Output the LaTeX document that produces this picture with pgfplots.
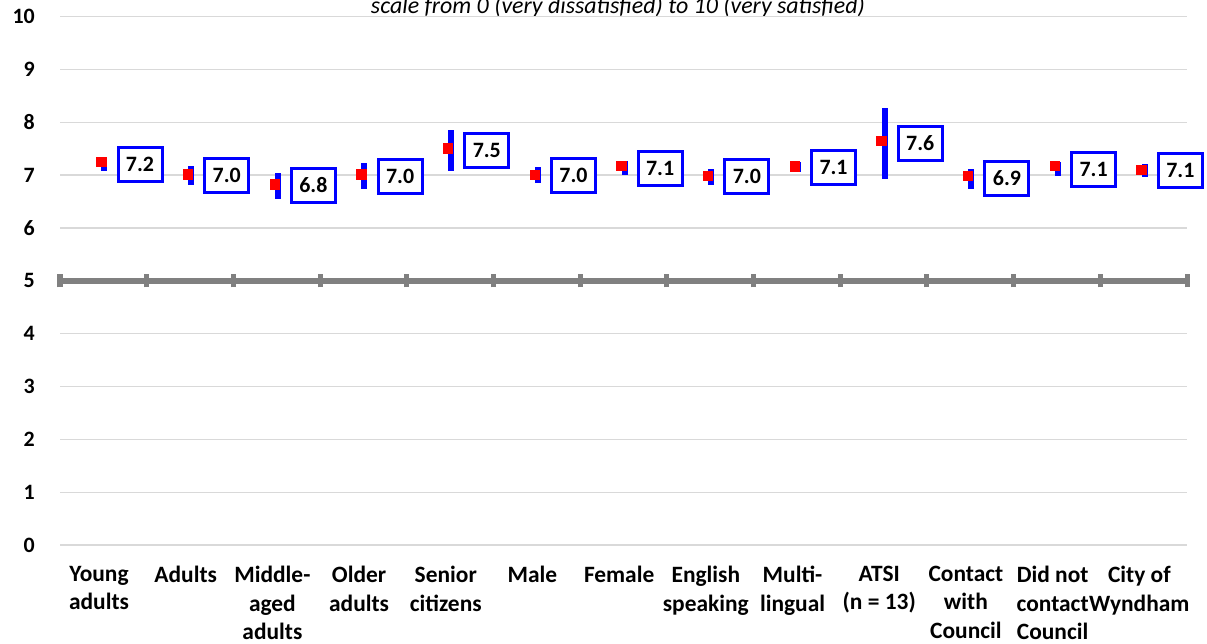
\documentclass[border=0pt]{standalone}
\usepackage{fontspec}
\setmainfont{Carlito}
\usepackage{pgfplots}
\pgfplotsset{compat=1.18}
\definecolor{gridgray}{RGB}{217,217,217}
\definecolor{axgray}{RGB}{128,128,128}
\definecolor{pblue}{RGB}{0,0,255}
\definecolor{pred}{RGB}{255,0,0}
\begin{document}
\begin{tikzpicture}
\path[use as bounding box] (0,0) rectangle (1207bp,-644bp);
\node[font=\itshape\fontsize{24}{28}\selectfont, anchor=base, inner sep=0pt] at (618bp,-13bp) {scale from 0 (very dissatisfied) to 10 (very satisfied)};
\begin{axis}[
  at={(60bp,-545bp)}, anchor=south west,
  scale only axis, width=1127bp, height=528.5bp,
  xmin=0, xmax=13, ymin=0, ymax=10,
  clip=false,
  axis line style={draw=none},
  major tick length=0pt,
  ytick={0,1,...,10},
  ymajorgrids, grid style={gridgray, line width=1.2bp},
  xtick={0.45,1.45,...,12.45},
  xticklabels={Young\\adults, Adults, Middle-\\aged\\adults, Older\\adults, Senior\\citizens, Male, Female, English\\speaking, Multi-\\lingual, ATSI\\(n = 13), Contact\\with\\Council, Did not\\contact\\Council, City of\\Wyndham},
  xticklabel style={font=\bfseries\fontsize{23.5}{28.5}\selectfont, align=center, anchor=north, inner sep=0pt, yshift=-21bp},
  yticklabel style={font=\bfseries\fontsize{22}{28}\selectfont, anchor=east, inner sep=0pt, xshift=-25bp},
  /pgf/number format/assume math mode=true,
]
% axis line at 5
\draw[axgray, line width=5.5bp] (axis cs:0,5) -- (axis cs:13,5);
\pgfplotsinvokeforeach{0,1,...,13}{\draw[axgray, line width=5bp] (axis cs:#1,5) ++(0,-6.5bp) -- ++(0,13bp);}
% confidence bars
\addplot[draw=none, mark=none, forget plot, error bars/.cd, y dir=both, y explicit, error mark=none, error bar style={pblue, line width=6bp}]
coordinates {
(0.512,7.215) +- (0,0.135)
(1.512,6.995) +- (0,0.185)
(2.512,6.790) +- (0,0.240)
(3.512,6.980) +- (0,0.240)
(4.512,7.465) +- (0,0.385)
(5.512,7.000) +- (0,0.150)
(6.512,7.130) +- (0,0.130)
(7.512,6.960) +- (0,0.150)
(8.512,7.150) +- (0,0.090)
(9.512,7.590) +- (0,0.670)
(10.512,6.925) +- (0,0.185)
(11.512,7.120) +- (0,0.130)
(12.512,7.080) +- (0,0.120)
};
% means
\addplot[only marks, mark=square*, mark size=4.7bp, mark options={fill=pred, draw=pred, line width=0pt}]
coordinates {
(0.477,7.25) (1.477,7.01) (2.477,6.82) (3.477,7.01) (4.477,7.50) (5.477,7.00) (6.477,7.17)
(7.477,6.98) (8.477,7.16) (9.477,7.65) (10.477,6.98) (11.477,7.17) (12.477,7.09)
};
% value labels
\addplot[draw=none, mark=none, point meta=explicit symbolic,
  nodes near coords={\pgfplotspointmeta}, nodes near coords align={center},
  every node near coord/.append style={font=\bfseries\fontsize{22}{26}\selectfont, draw=pblue, line width=3bp, fill=white, minimum width=44bp, minimum height=34bp, inner sep=0pt, anchor=center}]
coordinates {
(0.923,7.20) [7.2]
(1.923,7.00) [7.0]
(2.923,6.81) [6.8]
(3.923,6.98) [7.0]
(4.923,7.46) [7.5]
(5.923,7.00) [7.0]
(6.923,7.13) [7.1]
(7.923,6.97) [7.0]
(8.923,7.14) [7.1]
(9.923,7.60) [7.6]
(10.923,6.94) [6.9]
(11.923,7.11) [7.1]
(12.923,7.08) [7.1]
};
\end{axis}
\end{tikzpicture}
\end{document}
